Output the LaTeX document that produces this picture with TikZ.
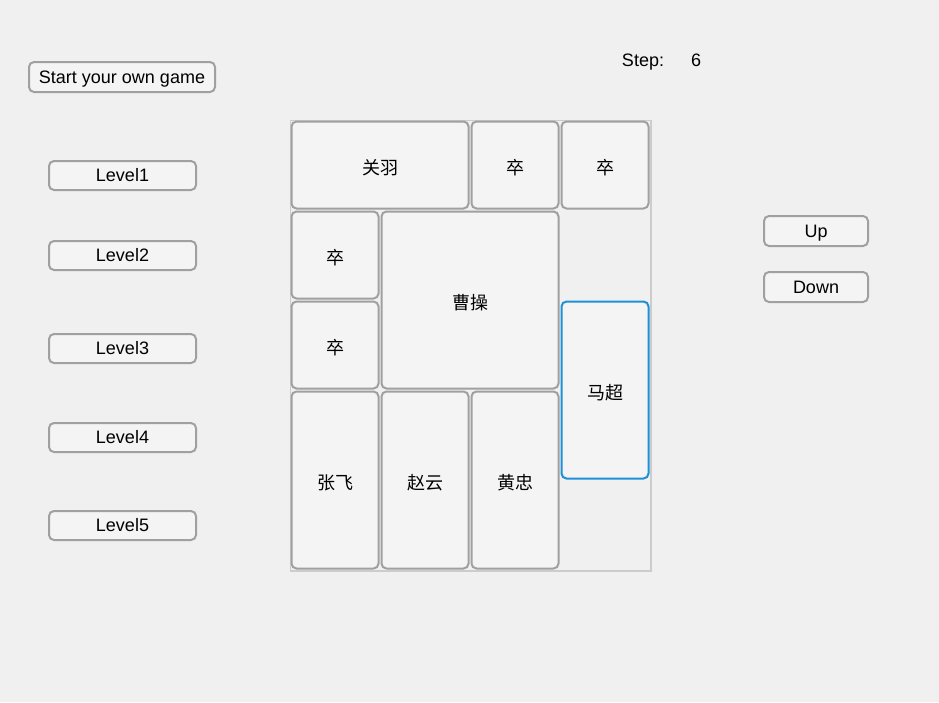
\documentclass[tikz,border=0pt]{standalone}
\usepackage{fontspec}
\setmainfont{Liberation Sans}
\newfontfamily\cjk{Noto Sans CJK SC}
\definecolor{bg}{HTML}{F0F0F0}
\definecolor{tilefill}{HTML}{F4F4F4}
\definecolor{tileedge}{HTML}{A0A0A0}
\definecolor{boardedge}{HTML}{CCCCCC}
\definecolor{selblue}{HTML}{1E90D8}
\tikzset{
  tile/.style={draw=tileedge, fill=tilefill, line width=2pt, rounded corners=5pt,
    inner sep=0pt, outer sep=0pt, text height=18.5pt, text depth=0pt,
    font=\cjk\fontsize{18}{18}\selectfont},
  seltile/.style={tile, draw=selblue},
  btn/.style={draw=tileedge, fill=tilefill, line width=2pt, rounded corners=5pt,
    inner sep=0pt, outer sep=0pt, text height=12.9pt, text depth=0pt,
    font=\fontsize{18}{18}\selectfont},
  lbl/.style={inner sep=0pt, text height=12.9pt, text depth=0pt,
    font=\fontsize{18}{18}\selectfont}
}
\begin{document}
\begin{tikzpicture}[x=1pt,y=-1pt]
\useasboundingbox (0,0) rectangle (939,702);
\fill[bg] (0,0) rectangle (939,702);
% board
\draw[boardedge, line width=1.5pt] (290.5,120.5) rectangle (651,571);
% tiles: center x = 290+90c+45w, center y = 120+90r+45h
\node[tile, minimum width=177pt, minimum height=87pt] (gy) at (380,165) {关羽};
\node[tile, minimum width=87pt, minimum height=87pt] (z1) at (515,165) {卒};
\node[tile, minimum width=87pt, minimum height=87pt] (z2) at (605,165) {卒};
\node[tile, minimum width=87pt, minimum height=87pt] (z3) at (335,255) {卒};
\node[tile, minimum width=177pt, minimum height=177pt] (cc) at (470,300) {曹操};
\node[tile, minimum width=87pt, minimum height=87pt] (z4) at (335,345) {卒};
\node[seltile, minimum width=87pt, minimum height=177pt] (mc) at (605,390) {马超};
\node[tile, minimum width=87pt, minimum height=177pt] (zf) at (335,480) {张飞};
\node[tile, minimum width=87pt, minimum height=177pt] (zy) at (425,480) {赵云};
\node[tile, minimum width=87pt, minimum height=177pt] (hz) at (515,480) {黄忠};
% buttons
\node[btn, minimum width=186pt, minimum height=30pt] (start) at (122,77) {Start your own game};
\node[btn, minimum width=147pt, minimum height=29pt] (l1) at (122.5,175.5) {Level1};
\node[btn, minimum width=147pt, minimum height=29pt] (l2) at (122.5,255.5) {Level2};
\node[btn, minimum width=147pt, minimum height=29pt] (l3) at (122.5,348.5) {Level3};
\node[btn, minimum width=147pt, minimum height=29pt] (l4) at (122.5,437.5) {Level4};
\node[btn, minimum width=147pt, minimum height=29pt] (l5) at (122.5,525.5) {Level5};
\node[btn, minimum width=104pt, minimum height=30pt] (up) at (816,231) {Up};
\node[btn, minimum width=104pt, minimum height=30pt] (down) at (816,287) {Down};
% step
\node[lbl] (step) at (643,60) {Step:};
\node[lbl] (stepn) at (696,60) {6};
\end{tikzpicture}
\end{document}
